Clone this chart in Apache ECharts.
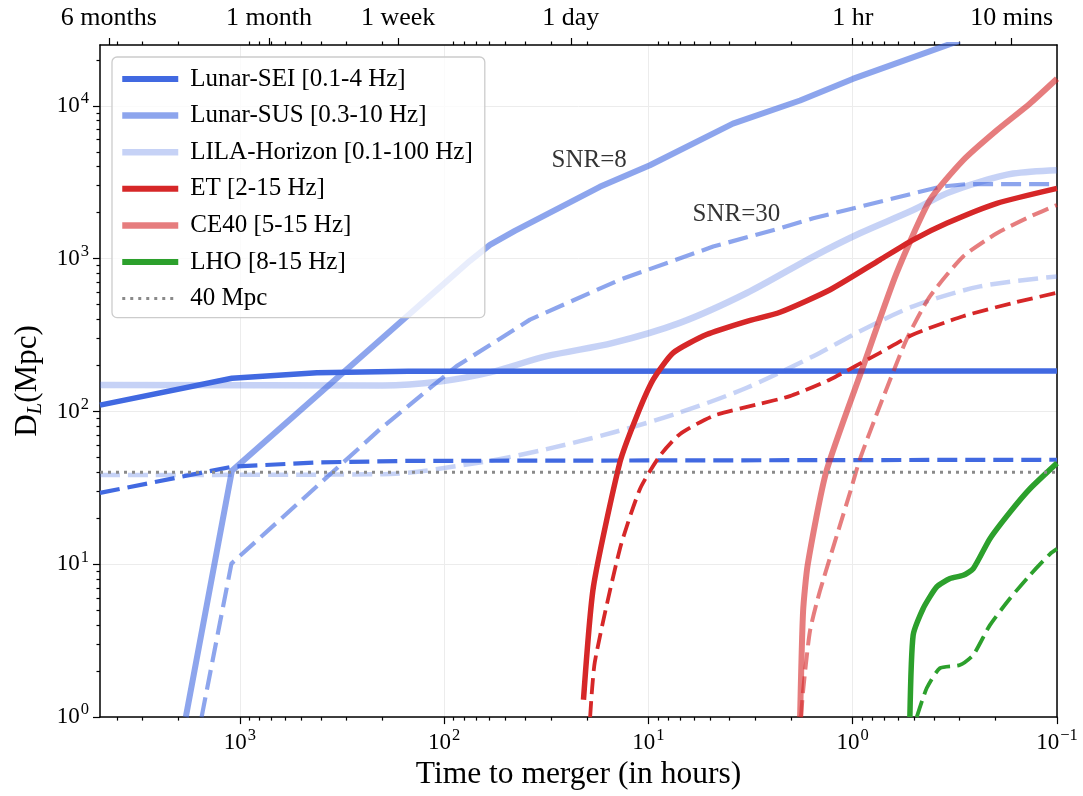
<!DOCTYPE html>
<html>
<head>
<meta charset="utf-8">
<script src="https://cdn.jsdelivr.net/npm/echarts@6/dist/echarts.min.js"></script>
<style>
  html, body { margin: 0; padding: 0; background: #ffffff; }
  #chart { width: 1083px; height: 796px; }
</style>
</head>
<body>
<div id="chart"></div>
<script>
// Horizon distance D_L (Mpc) against time to merger (hours), two SNR thresholds per detector.

// Axis ranges (hours, Mpc)
const xMinHours = 0.1;
const xMaxHours = 4840;
const yMinMpc = 1;
const yMaxMpc = 25000;

// Tick marks
const xMajorTicks = [1000, 100, 10, 1, 0.1];
const yMajorTicks = [1, 10, 100, 1000, 10000];
const topTickHours = [4380, 720, 168, 24, 1, 1 / 6];
const topTickNames = ['6 months', '1 month', '1 week', '1 day', '1 hr', '10 mins'];

// Series: [time to merger (h), distance (Mpc)]
const seiSnr8 = [[4840, 110], [1094, 165], [420, 179], [150, 183], [0.1, 184]];
const seiSnr30 = [[4840, 29.3], [1094, 43.5], [420, 46.4], [150, 47.5], [0.1, 48.3]];

const susSnr8 = [[1840, 1], [1094, 41], [74.8, 968], [59.7, 1230], [45.1, 1518], [17.3, 2950],
  [9.84, 4085], [3.86, 7640], [1.81, 10840], [1.0, 15000], [0.3, 26700]];
const susSnr30 = [[1540, 1], [1100, 10.1], [206, 76.6], [86.9, 198], [38, 399], [13.8, 728],
  [4.82, 1199], [2.27, 1581], [1.56, 1837], [0.922, 2187], [0.374, 2951], [0.277, 3075], [0.1, 3075]];

const lilaSnr8 = [[4840, 149], [200, 148], [105, 157], [59.7, 180], [31.5, 230], [14.9, 281],
  [7.02, 380], [3.30, 596], [1.56, 1032], [0.922, 1466], [0.506, 2080], [0.347, 2673],
  [0.238, 3184], [0.164, 3608], [0.1, 3794]];
const lilaSnr30 = [[4840, 38.4], [200, 38.8], [66.8, 46.4], [31.5, 56.7], [14.9, 72.8], [7.02, 98.4],
  [3.30, 143], [1.56, 230], [0.922, 335], [0.506, 487], [0.238, 658], [0.1, 764]];

const etSnr8 = [[20.8, 1.3], [18.6, 7.1], [13.8, 46.4], [11.4, 93.5], [9.47, 162], [7.57, 242],
  [5.19, 319], [3.30, 389], [2.27, 446], [1.29, 626], [0.736, 982], [0.506, 1327], [0.347, 1703],
  [0.197, 2300], [0.1, 2882]];
const etSnr30 = [[19.3, 1], [18.3, 2.3], [13.8, 12.6], [11.0, 31.1], [8.79, 51.3], [7.02, 71],
  [4.82, 93.5], [2.95, 111], [2.03, 126], [1.29, 162], [0.736, 242], [0.506, 319], [0.288, 420],
  [0.164, 513], [0.1, 598]];

const ceSnr8 = [[1.81, 1], [1.75, 4.9], [1.66, 10], [1.35, 40], [0.888, 198], [0.610, 804],
  [0.419, 2416], [0.288, 4406], [0.197, 6920], [0.136, 10320], [0.1, 15030]];
const ceSnr30 = [[1.79, 1], [1.75, 1.48], [1.62, 3.64], [1.45, 6.63], [1.03, 29.6], [0.922, 48.8],
  [0.736, 109], [0.545, 296], [0.419, 566], [0.288, 1032], [0.197, 1466], [0.136, 1881], [0.1, 2243]];

const lhoSnr8 = [[0.525, 1], [0.506, 3.44], [0.452, 5.14], [0.388, 7.11], [0.334, 8.06],
  [0.288, 8.47], [0.257, 9.36], [0.213, 14.7], [0.170, 21.9], [0.136, 31.1], [0.1, 45.9]];
const lhoSnr30 = [[0.486, 1], [0.434, 1.55], [0.374, 2.09], [0.299, 2.19], [0.257, 2.55],
  [0.213, 4.0], [0.170, 5.97], [0.136, 8.47], [0.108, 11.7], [0.1, 12.6]];

const refLevel = [[4840, 40], [0.1, 40]];

// Text annotations: [time (h), distance (Mpc)]
const snrNotes = [
  { value: [19.5, 4406], name: 'SNR=8' },
  { value: [3.71, 1960], name: 'SNR=30' }
];

const FONT = "'Liberation Serif', 'Times New Roman', serif";
const lg = Math.log10;

function minorTicks(maxValue, fromExp, toExp) {
  const out = [];
  for (let k = fromExp; k <= toExp; k++) {
    for (let m = 2; m <= 9; m++) {
      const v = m * Math.pow(10, k);
      if (v <= maxValue) out.push(lg(v));
    }
  }
  return out;
}

const powRich = {
  b: { fontFamily: FONT, fontSize: 23, color: '#000', lineHeight: 31 },
  s: { fontFamily: FONT, fontSize: 16.5, color: '#000', lineHeight: 15, verticalAlign: 'top', padding: [0, 0, 0, 1] }
};
function powLabel(v) {
  const e = Math.round(v);
  return '{b|10}{s|' + (e < 0 ? '\u2212' + (-e) : e) + '}';
}

const FRAME = { show: true, onZero: false, lineStyle: { color: '#000', width: 1.5 } };
const TICK = { color: '#000', width: 1.2 };

function curve(name, data, color, width, dash, smooth) {
  return {
    type: 'line', name: name, data: data,
    xAxisIndex: 0, yAxisIndex: 0,
    symbol: 'none', showSymbol: false, silent: true, animation: false,
    smooth: smooth || false, clip: true,
    lineStyle: { color: color, width: width, type: dash || 'solid', join: 'round', cap: 'butt' },
    itemStyle: { color: color },
    emphasis: { disabled: true }
  };
}

const C_SEI = '#4169E1';
const C_SUS = 'rgba(65,105,225,0.6)';
const C_LILA = 'rgba(65,105,225,0.3)';
const C_ET = '#D62728';
const C_CE = 'rgba(214,39,40,0.6)';
const C_LHO = '#2CA02C';
const C_REF = '#8a8a8a';

const N_SEI = 'Lunar-SEI [0.1-4 Hz]';
const N_SUS = 'Lunar-SUS [0.3-10 Hz]';
const N_LILA = 'LILA-Horizon [0.1-100 Hz]';
const N_ET = 'ET [2-15 Hz]';
const N_CE = 'CE40 [5-15 Hz]';
const N_LHO = 'LHO [8-15 Hz]';
const N_REF = '40 Mpc';

function legendEntry(name, width) {
  return { name: name, lineStyle: { width: width } };
}

const chart = echarts.init(document.getElementById('chart'), null, { renderer: 'canvas' });

chart.setOption({
  animation: false,
  backgroundColor: '#ffffff',
  grid: { left: 100, right: 26, top: 45, bottom: 77, containLabel: false },
  legend: {
    data: [
      legendEntry(N_SEI, 6), legendEntry(N_SUS, 6.5), legendEntry(N_LILA, 6.5),
      legendEntry(N_ET, 6), legendEntry(N_CE, 6.5), legendEntry(N_LHO, 6), legendEntry(N_REF, 3)
    ],
    orient: 'vertical',
    left: 112, top: 57,
    padding: [9, 12, 6, 7],
    itemWidth: 56, itemHeight: 26, itemGap: 10.6,
    backgroundColor: 'rgba(255,255,255,0.8)',
    borderColor: '#cccccc', borderWidth: 1.3, borderRadius: 5,
    selectedMode: false,
    itemStyle: { color: 'rgba(0,0,0,0)', borderColor: 'rgba(0,0,0,0)', borderWidth: 0 },
    textStyle: { fontFamily: FONT, fontSize: 25, color: '#000', lineHeight: 26, padding: [0, 0, 0, 7] }
  },
  xAxis: [
    { type: 'log', logBase: 10, min: xMinHours, max: xMaxHours, inverse: true, show: false },
    {
      type: 'value', position: 'bottom', min: lg(xMinHours), max: lg(xMaxHours), inverse: true,
      axisLine: FRAME,
      axisTick: { show: true, inside: false, length: 7, customValues: xMajorTicks.map(lg), lineStyle: TICK },
      axisLabel: { customValues: xMajorTicks.map(lg), formatter: powLabel, margin: 10, rich: powRich },
      splitLine: { show: true, lineStyle: { color: '#ececec', width: 1 } },
      name: 'Time to merger (in hours)', nameLocation: 'middle', nameGap: 39,
      nameTextStyle: { fontFamily: FONT, fontSize: 31.5, color: '#000' }
    },
    {
      type: 'value', position: 'bottom', min: lg(xMinHours), max: lg(xMaxHours), inverse: true,
      axisLine: { show: false, onZero: false },
      axisTick: { show: true, inside: false, length: 3.5, customValues: minorTicks(xMaxHours, -1, 3), lineStyle: TICK },
      axisLabel: { show: false }, splitLine: { show: false }
    },
    {
      type: 'value', position: 'top', min: lg(xMinHours), max: lg(xMaxHours), inverse: true,
      axisLine: FRAME,
      axisTick: { show: true, inside: false, length: 7, customValues: topTickHours.map(lg), lineStyle: TICK },
      axisLabel: {
        customValues: topTickHours.map(lg), margin: 14,
        fontFamily: FONT, fontSize: 26, color: '#000',
        formatter: function (v) {
          let best = 0;
          topTickHours.forEach(function (h, i) {
            if (Math.abs(lg(h) - v) < Math.abs(lg(topTickHours[best]) - v)) best = i;
          });
          return topTickNames[best];
        }
      },
      splitLine: { show: false }
    },
    {
      type: 'value', position: 'top', min: lg(xMinHours), max: lg(xMaxHours), inverse: true,
      axisLine: { show: false, onZero: false },
      axisTick: { show: true, inside: false, length: 3.5, customValues: minorTicks(xMaxHours, -1, 3), lineStyle: TICK },
      axisLabel: { show: false }, splitLine: { show: false }
    }
  ],
  yAxis: [
    { type: 'log', logBase: 10, min: yMinMpc, max: yMaxMpc, show: false },
    {
      type: 'value', position: 'left', min: lg(yMinMpc), max: lg(yMaxMpc),
      axisLine: FRAME,
      axisTick: { show: true, inside: false, length: 7, customValues: yMajorTicks.map(lg), lineStyle: TICK },
      axisLabel: { customValues: yMajorTicks.map(lg), formatter: powLabel, margin: 11, rich: powRich },
      splitLine: { show: true, lineStyle: { color: '#ececec', width: 1 } },
      name: '{a|D}{s|L}{a|(Mpc)}', nameLocation: 'middle', nameGap: 50, nameRotate: 90,
      nameTextStyle: {
        rich: {
          a: { fontFamily: FONT, fontSize: 31, color: '#000', lineHeight: 36 },
          s: { fontFamily: FONT, fontSize: 21, fontStyle: 'italic', color: '#000', lineHeight: 21, verticalAlign: 'bottom' }
        }
      }
    },
    {
      type: 'value', position: 'left', min: lg(yMinMpc), max: lg(yMaxMpc),
      axisLine: { show: false, onZero: false },
      axisTick: { show: true, inside: false, length: 3.5, customValues: minorTicks(yMaxMpc, 0, 4), lineStyle: TICK },
      axisLabel: { show: false }, splitLine: { show: false }
    },
    {
      type: 'value', position: 'right', min: lg(yMinMpc), max: lg(yMaxMpc),
      axisLine: FRAME, axisTick: { show: false }, axisLabel: { show: false }, splitLine: { show: false }
    }
  ],
  series: [
    curve(N_SEI, seiSnr8, C_SEI, 5.5),
    curve(N_SEI + ' SNR=30', seiSnr30, C_SEI, 4.2, [20, 8]),
    curve(N_SUS, susSnr8, C_SUS, 6),
    curve(N_SUS + ' SNR=30', susSnr30, C_SUS, 4.2, [20, 8]),
    curve(N_LILA, lilaSnr8, C_LILA, 6.5, null, 0.3),
    curve(N_LILA + ' SNR=30', lilaSnr30, C_LILA, 4.5, [20, 8], 0.3),
    curve(N_ET, etSnr8, C_ET, 5.5, null, 0.2),
    curve(N_ET + ' SNR=30', etSnr30, C_ET, 3.8, [16, 7], 0.2),
    curve(N_CE, ceSnr8, C_CE, 6, null, 0.2),
    curve(N_CE + ' SNR=30', ceSnr30, C_CE, 4, [17, 7], 0.2),
    curve(N_LHO, lhoSnr8, C_LHO, 5.5, null, 0.2),
    curve(N_LHO + ' SNR=30', lhoSnr30, C_LHO, 3.8, [17, 7], 0.2),
    curve(N_REF, refLevel, C_REF, 3, [3, 5]),
    {
      type: 'scatter', name: 'notes', data: snrNotes,
      xAxisIndex: 0, yAxisIndex: 0, silent: true,
      symbol: 'circle', symbolSize: 1, itemStyle: { color: 'rgba(0,0,0,0)' },
      label: { show: true, position: 'inside', formatter: '{b}', fontFamily: FONT, fontSize: 25, color: '#000' }
    }
  ]
});
</script>
</body>
</html>
